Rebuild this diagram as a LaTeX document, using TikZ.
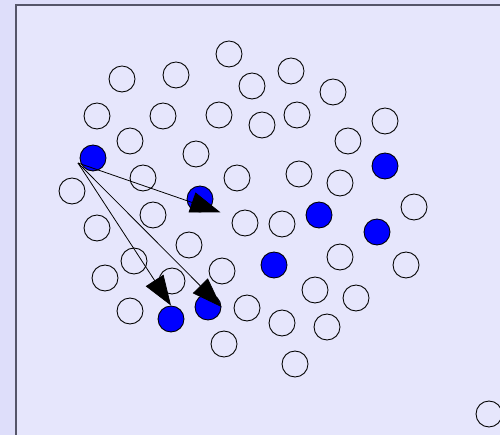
\documentclass[tikz,border=0pt]{standalone}
\usetikzlibrary{arrows.meta, calc}

\definecolor{pagebg}{RGB}{222,222,250}
\definecolor{framebg}{RGB}{230,230,252}
\definecolor{framegray}{RGB}{85,85,105}

\begin{document}
\begin{tikzpicture}[
    x=0.02cm, y=-0.02cm,
    dot/.style={draw, circle, minimum size=0.52cm, inner sep=0pt, line width=0.5pt, fill=#1},
    dot/.default=none,
    pick/.style={-{Triangle[length=0.6cm, width=0.42cm]}, line width=0.45pt}
]

% --- Background and frame ---
\clip (0,0) rectangle (500,435);
\fill[pagebg] (0,0) rectangle (500,435);
\draw[framegray, fill=framebg, line width=0.6pt] (16,5) rectangle (540,470);

% --- Empty circles ---
\foreach \x/\y [count=\i] in {229/54, 122/79, 176/75, 252/86, 291/71, 333/92,
    97/116, 163/116, 219/115, 262/125, 297/115, 385/121,
    130/141, 196/154, 348/141, 143/178, 237/178, 299/174, 340/183,
    72/191, 153/215, 97/228, 245/223, 282/224, 414/207,
    189/245, 134/261, 222/271, 340/257, 406/265,
    105/278, 172/281, 315/290, 356/298,
    130/311, 247/308, 282/323, 327/327,
    224/344, 295/364, 489/414} {
    \node[dot] (c\i) at (\x,\y) {};
}

% --- Blue circles ---
\node[dot=blue] (b0) at (93,158) {};
\node[dot=blue] (b1) at (200,199) {};
\node[dot=blue] (b2) at (171,319) {};
\node[dot=blue] (b3) at (208,307) {};
\node[dot=blue] (b4) at (385,166) {};
\node[dot=blue] (b5) at (319,215) {};
\node[dot=blue] (b6) at (377,232) {};
\node[dot=blue] (b7) at (274,265) {};

% --- Arrows ---
\coordinate (src) at (78,163);
\draw[pick, shorten >=-0.23cm] (src) -- (b1.south east);
\draw[pick] (src) -- (b2.north);
\draw[pick] (src) -- (b3.east);

\end{tikzpicture}
\end{document}
